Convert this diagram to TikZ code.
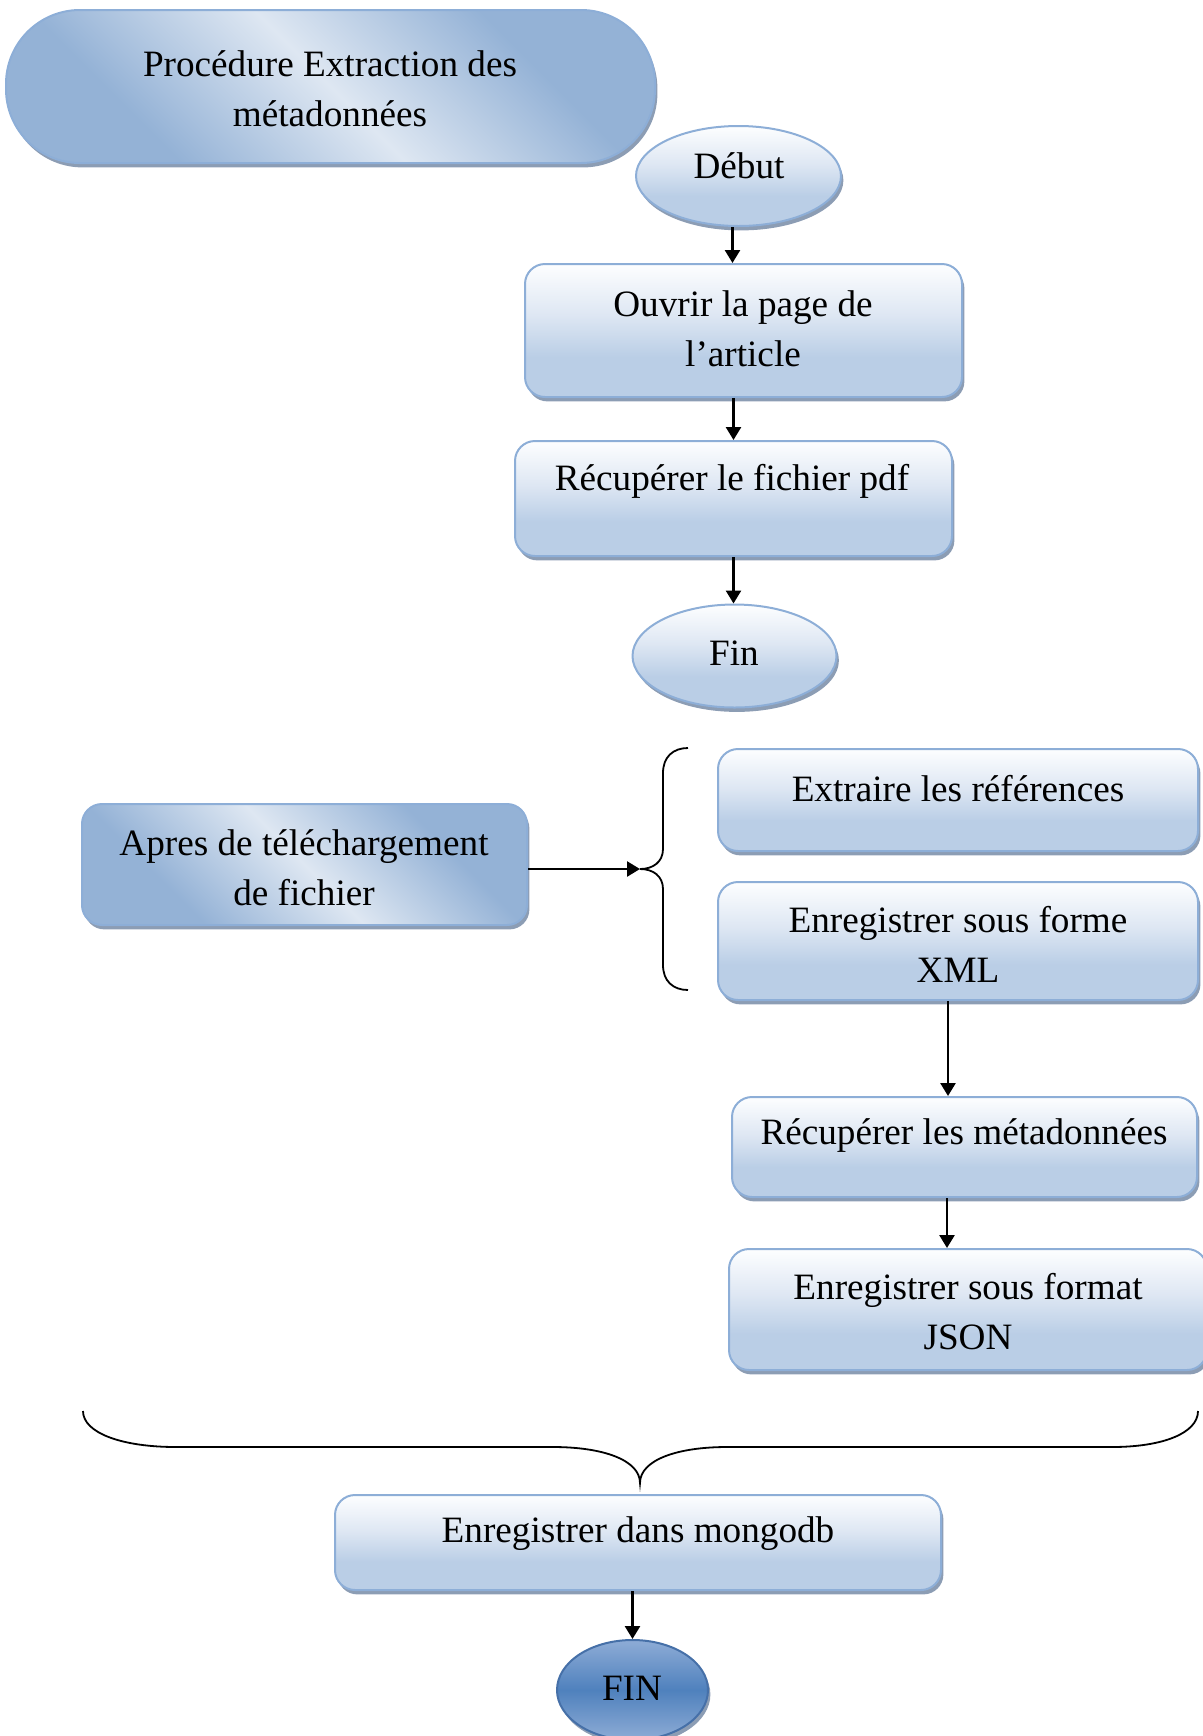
\documentclass[tikz,border=0pt]{standalone}
\usepackage{fontspec}
\setmainfont{Liberation Serif}
\usetikzlibrary{shapes.geometric,shadows,arrows.meta}

% palette
\definecolor{bordercol}{RGB}{141,174,215}
\definecolor{boxtop}{RGB}{253,254,255}
\definecolor{boxmid}{RGB}{222,231,243}
\definecolor{boxbot}{RGB}{186,206,230}
\definecolor{dgdark}{RGB}{148,178,214}
\definecolor{dglight}{RGB}{222,231,242}
\definecolor{shadowcol}{RGB}{128,146,172}
\definecolor{finlight}{RGB}{142,172,214}
\definecolor{finmid}{RGB}{79,129,189}
\definecolor{finborder}{RGB}{70,112,168}

% fills
\pgfdeclareverticalshading{boxshade}{100bp}{color(0bp)=(boxbot); color(25bp)=(boxbot); color(40bp)=(boxbot); color(56bp)=(boxmid); color(75bp)=(boxtop); color(100bp)=(boxtop)}
\pgfdeclareverticalshading{diagshade}{100bp}{color(0bp)=(dgdark); color(30bp)=(dgdark); color(50bp)=(dglight); color(70bp)=(dgdark); color(100bp)=(dgdark)}
\pgfdeclareverticalshading{finshade}{100bp}{color(0bp)=(finlight); color(25bp)=(finlight); color(50bp)=(finmid); color(75bp)=(finlight); color(100bp)=(finlight)}

\tikzset{
  softshadow/.style={drop shadow={shadow xshift=1.2pt, shadow yshift=-2.2pt, fill=shadowcol, opacity=0.9}},
  lightbox/.style={rectangle, draw=bordercol, line width=1pt, rounded corners=10pt, shading=boxshade, softshadow, inner sep=0pt},
  lightell/.style={ellipse, draw=bordercol, line width=1pt, shading=boxshade, softshadow, inner sep=0pt},
  diagbox/.style={rectangle, draw=bordercol, line width=1pt, rounded corners=10pt, shading=diagshade, shading angle=-45, softshadow, inner sep=0pt},
  darkell/.style={ellipse, draw=finborder, line width=1pt, shading=finshade, softshadow, inner sep=0pt},
  lbl/.style={align=center, inner sep=0pt},
  arr/.style={-{Triangle[length=6.5pt,width=7.5pt]}, line width=1.3pt},
  bracepath/.style={line width=0.9pt},
}

\begin{document}
\begin{tikzpicture}[x=0.5pt, y=-0.5pt, font=\fontsize{18.6}{25}\selectfont]
\path[use as bounding box] (0,0) rectangle (1203,1736);
\clip (0,0) rectangle (1203,1736);

% title terminal
\node[diagbox, rounded corners=37pt, minimum width=324.5pt, minimum height=76.5pt] (term) at (330.5,86.5) {};
\node[lbl] (termtxt) at (330,89) {Procédure Extraction des\\métadonnées};

% first procedure
\node[lightell, minimum width=102.5pt, minimum height=50pt] (debut) at (738.5,176) {};
\node[lbl] (debuttxt) at (739,166) {Début};

\node[lightbox, minimum width=218.5pt, minimum height=66.5pt] (ouvrir) at (743.5,330.5) {};
\node[lbl] (ouvrirtxt) at (743,329) {Ouvrir la page de\\l’article};

\node[lightbox, minimum width=218.5pt, minimum height=57.5pt] (pdf) at (733.5,498.5) {};
\node[lbl] (pdftxt) at (732,481) {Récupérer le fichier pdf};

\node[lightell, minimum width=102pt, minimum height=51.5pt] (fin) at (734.5,656) {};
\node[lbl] (fintxt) at (734,653) {Fin};

% second procedure
\node[diagbox, minimum width=222.5pt, minimum height=60.5pt] (apres) at (304.5,864.5) {};
\node[lbl] (aprestxt) at (304,868) {Apres de téléchargement\\de fichier};

\node[lightbox, minimum width=240pt, minimum height=51pt] (extraire) at (958,800) {};
\node[lbl] (extrairetxt) at (958,789) {Extraire les références};

\node[lightbox, minimum width=240pt, minimum height=59pt] (xml) at (958,941) {};
\node[lbl] (xmltxt) at (958,944) {Enregistrer sous forme\\XML};

\node[lightbox, minimum width=232.5pt, minimum height=50pt] (meta) at (964.5,1147) {};
\node[lbl] (metatxt) at (964,1136) {Récupérer les métadonnées};

\node[lightbox, minimum width=239pt, minimum height=60.5pt] (json) at (968,1309.5) {};
\node[lbl] (jsontxt) at (968,1312) {Enregistrer sous format\\JSON};

\node[lightbox, minimum width=303pt, minimum height=47.5pt] (mongo) at (638,1542.5) {};
\node[lbl] (mongotxt) at (638,1534) {Enregistrer dans mongodb};

\node[darkell, minimum width=75.5pt, minimum height=50pt] (FIN) at (632.5,1690) {};
\node[lbl] (FINtxt) at (632,1688) {FIN};

% braces
\coordinate (tip) at (640,869);
\draw[bracepath] (688,748) .. controls (673,748) and (663,757) .. (663,773)
  -- (663,849) .. controls (663,862) and (653,869) .. (tip)
  .. controls (653,869) and (663,876) .. (663,889)
  -- (663,965) .. controls (663,981) and (673,990) .. (688,990);

\coordinate (btip) at (640,1483);
\draw[bracepath] (83,1411) .. controls (83,1433) and (122,1447) .. (176,1447)
  -- (553,1447) .. controls (603,1447) and (640,1460) .. (btip)
  .. controls (640,1460) and (677,1447) .. (727,1447)
  -- (1112,1447) .. controls (1163,1447) and (1198,1433) .. (1198,1411);

% connectors
\draw[arr] ([xshift=-3pt]debut.south) -- ([xshift=-3pt]debut.south |- ouvrir.north);
\draw[arr] (ouvrir.south -| pdf.north) -- (pdf.north);
\draw[arr] (pdf.south) -- (pdf.south |- fin.north);
\draw[arr] (apres.east |- tip) -- (tip);
\draw[arr] ([xshift=-5pt]xml.south) -- ([xshift=-5pt]xml.south |- meta.north);
\draw[arr] ([xshift=-8.75pt]meta.south) -- ([xshift=-8.75pt]meta.south |- json.north);
\draw[arr] (mongo.south -| FIN.north) -- (FIN.north);
\end{tikzpicture}
\end{document}
